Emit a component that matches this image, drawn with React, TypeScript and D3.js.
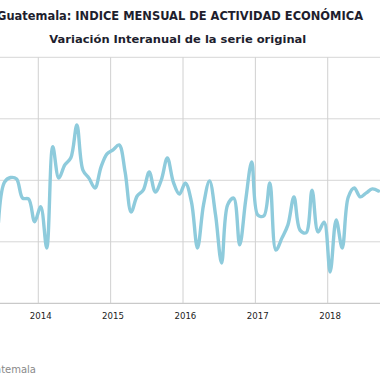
import React from "react";
import * as d3 from "d3";

// Monthly data from Jun 2013 to Sep 2018 (interannual % variation)
const startYear = 2013;
const startMonth = 5; // June (0-based)
const values: number[] = [
  2.64, 3.94, 4.09, 4.04, 3.42, 3.39, 2.65, // Jun-Dec 2013
  3.14, 1.8, 5.09, 4.07, 4.5, 4.73, 5.8, 4.33, 4.07, 3.75, 4.43, 4.86, // 2014
  4.99, 5.15, 4.27, 2.97, 3.49, 3.68, 4.27, 3.62, 4.01, 4.73, 3.94, 3.55, // 2015
  3.91, 3.3, 1.8, 3.2, 3.98, 2.87, 1.31, 3.2, 3.42, 1.9, 3.36, 4.6, // 2016
  2.87, 2.84, 3.91, 1.73, 2.12, 2.55, 3.46, 2.38, 2.29, 3.68, 2.32, 2.64, // 2017
  1.02, 2.71, 1.8, 3.45, 3.75, 3.46, 3.59, 3.72, 3.65, // Jan-Sep 2018
];
const yearLabels: number[] = [2014, 2015, 2016, 2017, 2018];
const yTicks: number[] = [0, 2, 4, 6, 8];

const title = "Guatemala: INDICE MENSUAL DE ACTIVIDAD ECONÓMICA";
const subtitle = "Variación Interanual de la serie original";
const source = "Fuente: Banco de Guatemala";

export default function App() {
  const W = 380;
  const H = 380;
  const monthStep = 6.03;
  const x0 = 40.7; // position of Jan 2014 (index 12)
  const x = d3
    .scaleLinear()
    .domain([12, 72])
    .range([x0, x0 + 60 * monthStep]);
  const y = d3.scaleLinear().domain([0, 8]).range([303.3, 57.3]);

  const pts = values.map((v, i) => ({ idx: startMonth + i, v }));
  const line = d3
    .line<{ idx: number; v: number }>()
    .x((d) => x(d.idx))
    .y((d) => y(d.v))
    .curve(d3.curveCatmullRom.alpha(0.5));

  const yearIdx = (yr: number) => (yr - startYear) * 12;

  return (
    <svg
      width={W}
      height={H}
      style={{ position: "absolute", left: 0, top: 0, background: "#fff" }}
      fontFamily="'DejaVu Sans', sans-serif"
    >
      <rect width={W} height={H} fill="#fff" />
      {yTicks.map((t) => (
        <line
          key={"h" + t}
          x1={-10}
          x2={W}
          y1={y(t)}
          y2={y(t)}
          stroke={t === 0 ? "#bcbcbc" : "#d6d6d6"}
          strokeWidth={1}
        />
      ))}
      {yearLabels.map((yr) => (
        <line
          key={"v" + yr}
          x1={x(yearIdx(yr) - 0.4)}
          x2={x(yearIdx(yr) - 0.4)}
          y1={y(8)}
          y2={y(0)}
          stroke="#d0d0d0"
          strokeWidth={1}
        />
      ))}
      <path
        d={line(pts) || ""}
        fill="none"
        stroke="#8ecbdc"
        strokeWidth={3.4}
        strokeLinejoin="round"
        strokeLinecap="round"
      />
      {yearLabels.map((yr) => (
        <text
          key={"t" + yr}
          x={x(yearIdx(yr))}
          y={318.5}
          textAnchor="middle"
          fontSize={8.6}
          fill="#222"
        >
          {yr}
        </text>
      ))}
      <text
        x={-3}
        y={20}
        fontSize={12.5}
        fontWeight="bold"
        fill="#1e1e2e"
        textLength={366}
        lengthAdjust="spacingAndGlyphs"
      >
        {title}
      </text>
      <text
        x={49.3}
        y={43}
        fontSize={11}
        fontWeight="bold"
        fill="#1e1e2e"
        textLength={257}
        lengthAdjust="spacingAndGlyphs"
      >
        {subtitle}
      </text>
      <text x={36} y={373} textAnchor="end" fontSize={10} fill="#8a8a8a">
        {source}
      </text>
    </svg>
  );
}
